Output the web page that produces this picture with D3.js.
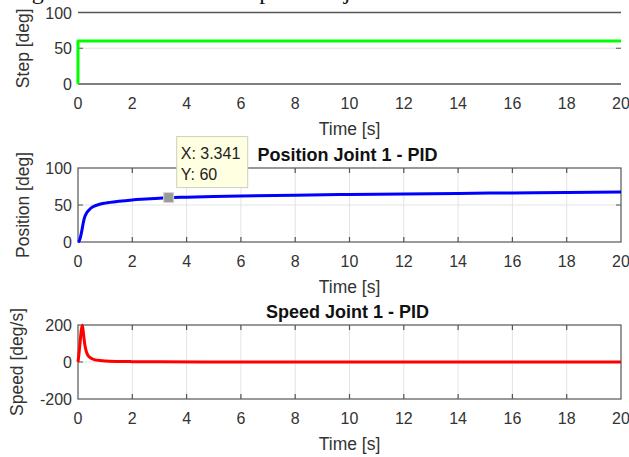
<!DOCTYPE html>
<html>
<head>
<meta charset="utf-8">
<script src="https://cdn.jsdelivr.net/npm/d3@7"></script>
<style>
  body { margin: 0; background: #fff; }
  text { font-family: "Liberation Sans", Arial, sans-serif; }
  text.caption { font-family: "Liberation Serif", "Times New Roman", serif; }
</style>
</head>
<body>
<svg id="chart" width="629" height="457"></svg>
<script>
// time axis ticks shared by all three panels
let timeTicks = [0, 2, 4, 6, 8, 10, 12, 14, 16, 18, 20];

// step input
let stepTime = [0, 0, 20];
let stepValue = [0, 60, 60];

// position of joint 1
let posTime = [0, 0.05, 0.1, 0.15, 0.2, 0.25, 0.3, 0.4, 0.5, 0.6, 0.8, 1, 1.5, 2, 2.5, 3, 3.341, 4, 5, 6, 8, 10, 12, 14, 16, 18, 20];
let posValue = [0, 2, 8, 17, 27, 34, 38, 43, 46.5, 48.5, 51, 52.5, 55, 56.8, 58, 59.2, 60, 60.6, 61.4, 62.1, 63.3, 64.2, 65, 65.7, 66.3, 66.9, 67.4];

// speed of joint 1
let speedTime = [0, 0.04, 0.08, 0.12, 0.16, 0.2, 0.25, 0.3, 0.35, 0.4, 0.5, 0.6, 0.8, 1, 1.5, 2, 3, 5, 10, 20];
let speedValue = [0, 50, 110, 170, 198, 155, 95, 60, 40, 30, 19, 13, 8, 5, 3, 2, 1, 0.5, 0.2, 0.1];

// data tip on the position curve
let tipX = 3.341;
let tipY = 60;

let svg = d3.select("#chart");
let x = d3.scaleLinear().domain([0, 20]).range([78, 621]);

// figure caption cut off at the top of the picture
svg.append("text")
    .attr("class", "caption")
    .attr("x", 10)
    .attr("y", -1)
    .attr("font-size", 24)
    .attr("textLength", 612)
    .attr("fill", "#111")
    .text("Figure 4. Position and speed of joint 1 with PID controller");

function drawPanel(p) {
    let y = d3.scaleLinear().domain(p.domain).range([p.bottom, p.top]);
    let g = svg.append("g");
    let x0 = x.range()[0], x1 = x.range()[1];

    // grid
    if (p.xGrid) {
        g.selectAll(".vg").data(timeTicks.slice(1, -1)).enter().append("line")
            .attr("x1", d => x(d)).attr("x2", d => x(d))
            .attr("y1", p.top).attr("y2", p.bottom)
            .attr("stroke", "#e3e3e3").attr("stroke-width", 1);
    }
    g.selectAll(".hg").data(p.yTicks.slice(1, -1)).enter().append("line")
        .attr("x1", x0).attr("x2", x1)
        .attr("y1", d => y(d)).attr("y2", d => y(d))
        .attr("stroke", "#e3e3e3").attr("stroke-width", 1);

    // axes box
    let axisColor = "#555";
    if (p.box) {
        g.append("rect")
            .attr("x", x0).attr("y", p.top)
            .attr("width", x1 - x0).attr("height", p.bottom - p.top)
            .attr("fill", "none").attr("stroke", axisColor).attr("stroke-width", 1.2);
        // x ticks, bottom and top
        g.selectAll(".xt").data(timeTicks.slice(1, -1)).enter().append("path")
            .attr("d", d => `M${x(d)},${p.bottom}v-5M${x(d)},${p.top}v5`)
            .attr("stroke", axisColor).attr("stroke-width", 1.2);
    } else {
        g.append("line").attr("x1", x0).attr("x2", x1)
            .attr("y1", p.top).attr("y2", p.top)
            .attr("stroke", axisColor).attr("stroke-width", 1.4);
        g.append("line").attr("x1", x0).attr("x2", x1)
            .attr("y1", p.bottom).attr("y2", p.bottom)
            .attr("stroke", axisColor).attr("stroke-width", 1.4);
    }
    // y ticks, left and right
    g.selectAll(".yt").data(p.yTicks.slice(1, -1)).enter().append("path")
        .attr("d", d => `M${x0},${y(d)}h5M${x1},${y(d)}h-5`)
        .attr("stroke", axisColor).attr("stroke-width", 1.2);

    // tick labels
    g.selectAll(".yl").data(p.yTicks).enter().append("text")
        .attr("x", x0 - 6).attr("y", d => y(d) + 6)
        .attr("text-anchor", "end")
        .attr("font-size", 16).attr("fill", "#333")
        .text(d => d);
    g.selectAll(".xl").data(timeTicks).enter().append("text")
        .attr("x", d => x(d)).attr("y", p.bottom + 25)
        .attr("text-anchor", "middle")
        .attr("font-size", 16).attr("fill", "#333")
        .text(d => d);

    // axis labels
    g.append("text")
        .attr("x", (x0 + x1) / 2).attr("y", p.bottom + 51)
        .attr("text-anchor", "middle")
        .attr("font-size", 17.5).attr("fill", "#333")
        .text("Time [s]");
    g.append("text")
        .attr("transform", `translate(${p.labelX},${(p.top + p.bottom) / 2}) rotate(-90)`)
        .attr("text-anchor", "middle")
        .attr("font-size", 17.5).attr("fill", "#333")
        .text(p.yLabel);

    if (p.title) {
        g.append("text")
            .attr("x", (x0 + x1) / 2 - 2).attr("y", p.top - 7)
            .attr("text-anchor", "middle")
            .attr("font-size", 18).attr("font-weight", "bold").attr("fill", "#111")
            .text(p.title);
    }

    // the curve
    let line = d3.line()
        .x(d => x(d[0]))
        .y(d => y(d[1]))
        .curve(p.curve);
    g.append("path")
        .datum(d3.zip(p.time, p.values))
        .attr("d", line)
        .attr("fill", "none")
        .attr("stroke", p.color)
        .attr("stroke-width", 3)
        .attr("stroke-linejoin", "round");

    return y;
}

drawPanel({
    top: 12.5, bottom: 84, domain: [0, 100], yTicks: [0, 50, 100],
    xGrid: false, box: false, labelX: 29, yLabel: "Step [deg]",
    time: stepTime, values: stepValue, color: "#00ff00", curve: d3.curveLinear
});

let yPos = drawPanel({
    top: 168, bottom: 242, domain: [0, 100], yTicks: [0, 50, 100],
    xGrid: true, box: true, labelX: 29, yLabel: "Position [deg]",
    title: "Position Joint 1 - PID",
    time: posTime, values: posValue, color: "#0000ff", curve: d3.curveMonotoneX
});

drawPanel({
    top: 325, bottom: 399, domain: [-200, 200], yTicks: [-200, 0, 200],
    xGrid: true, box: true, labelX: 23, yLabel: "Speed [deg/s]",
    title: "Speed Joint 1 - PID",
    time: speedTime, values: speedValue, color: "#ff0000", curve: d3.curveMonotoneX
});

// data tip
let mx = x(tipX), my = yPos(tipY);
svg.append("rect")
    .attr("x", mx - 5).attr("y", my - 5)
    .attr("width", 10).attr("height", 10)
    .attr("fill", "#9a9a9a").attr("stroke", "#d8d8d0").attr("stroke-width", 1);

let tip = svg.append("g").attr("transform", `translate(${mx + 8},${my - 61})`);
tip.append("rect")
    .attr("width", 71).attr("height", 51)
    .attr("fill", "#ffffe1").attr("stroke", "#d0d0c0").attr("stroke-width", 1);
tip.append("text").attr("x", 4).attr("y", 22)
    .attr("font-size", 16).attr("fill", "#222")
    .text("X: " + tipX);
tip.append("text").attr("x", 4).attr("y", 43)
    .attr("font-size", 16).attr("fill", "#222")
    .text("Y: " + tipY);
</script>
</body>
</html>
